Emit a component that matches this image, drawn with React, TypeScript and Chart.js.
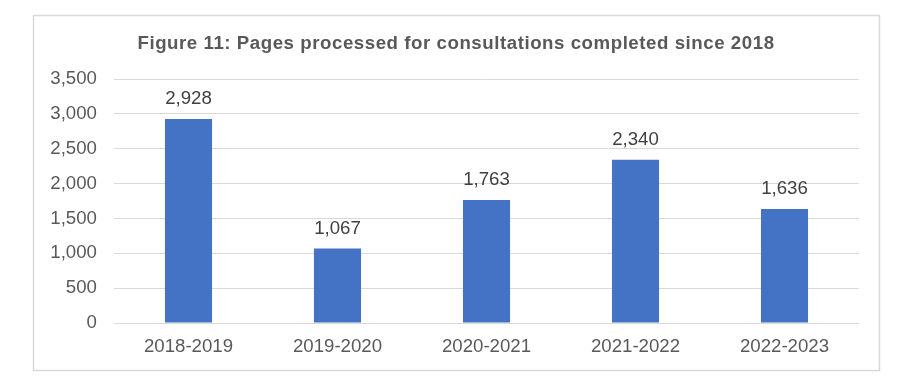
import React, { useEffect, useRef } from "react";
import { Chart, registerables } from "chart.js";

Chart.register(...registerables);

const categories = ["2018-2019", "2019-2020", "2020-2021", "2021-2022", "2022-2023"];
const pages = [2928, 1067, 1763, 2340, 1636];
const titleText = "Figure 11: Pages processed for consultations completed since 2018";

const FONT = "Arial, 'Liberation Sans', sans-serif";

const framePlugin = {
  id: "frame",
  beforeDraw(chart: any) {
    const ctx = chart.ctx;
    ctx.save();
    ctx.fillStyle = "#ffffff";
    ctx.fillRect(0, 0, chart.width, chart.height);
    ctx.strokeStyle = "#d9d9d9";
    ctx.lineWidth = 1.5;
    ctx.strokeRect(33.5, 15.5, 846, 355);
    ctx.fillStyle = "#595959";
    ctx.font = `bold 18.67px ${FONT}`;
    ctx.textAlign = "center";
    ctx.textBaseline = "middle";
    try {
      (ctx as any).letterSpacing = "0.55px";
    } catch (e) {}
    ctx.fillText(titleText, 456, 44);
    ctx.restore();
  },
  afterDatasetsDraw(chart: any) {
    const ctx = chart.ctx;
    const meta = chart.getDatasetMeta(0);
    ctx.save();
    ctx.fillStyle = "#404040";
    ctx.font = `18.67px ${FONT}`;
    ctx.textAlign = "center";
    ctx.textBaseline = "middle";
    meta.data.forEach((bar: any, i: number) => {
      ctx.fillText(pages[i].toLocaleString("en-US"), bar.x, bar.y - 20);
    });
    ctx.restore();
  },
};

export default function App() {
  const ref = useRef<HTMLCanvasElement>(null);
  useEffect(() => {
    if (!ref.current) return;
    const chart = new Chart(ref.current, {
      type: "bar",
      data: {
        labels: categories,
        datasets: [
          {
            data: pages,
            backgroundColor: "#4472C4",
            barPercentage: 0.316,
            categoryPercentage: 1,
          },
        ],
      },
      options: {
        animation: false,
        responsive: false,
        maintainAspectRatio: false,
        layout: { padding: { left: 33, right: 54, top: 79, bottom: 0 } },
        plugins: { legend: { display: false }, tooltip: { enabled: false }, title: { display: false } },
        scales: {
          x: {
            grid: { display: false, drawTicks: false },
            border: { display: false },
            ticks: { color: "#595959", font: { family: FONT, size: 18.67 }, padding: 13, maxRotation: 0 },
            afterFit(scale: any) {
              scale.height = 64;
            },
          },
          y: {
            min: 0,
            max: 3500,
            grid: { color: "#d9d9d9", drawTicks: false, lineWidth: 1 },
            border: { display: false },
            ticks: {
              stepSize: 500,
              color: "#595959",
              font: { family: FONT, size: 18.67 },
              padding: 17,
              callback: (v: any) => Number(v).toLocaleString("en-US"),
            },
            afterFit(scale: any) {
              scale.width = 81;
            },
          },
        },
      },
      plugins: [framePlugin],
    });
    return () => chart.destroy();
  }, []);
  return (
    <div style={{ position: "absolute", left: 0, top: 0, width: 913, height: 387 }}>
      <canvas ref={ref} width={913} height={387} style={{ width: 913, height: 387 }} />
    </div>
  );
}
